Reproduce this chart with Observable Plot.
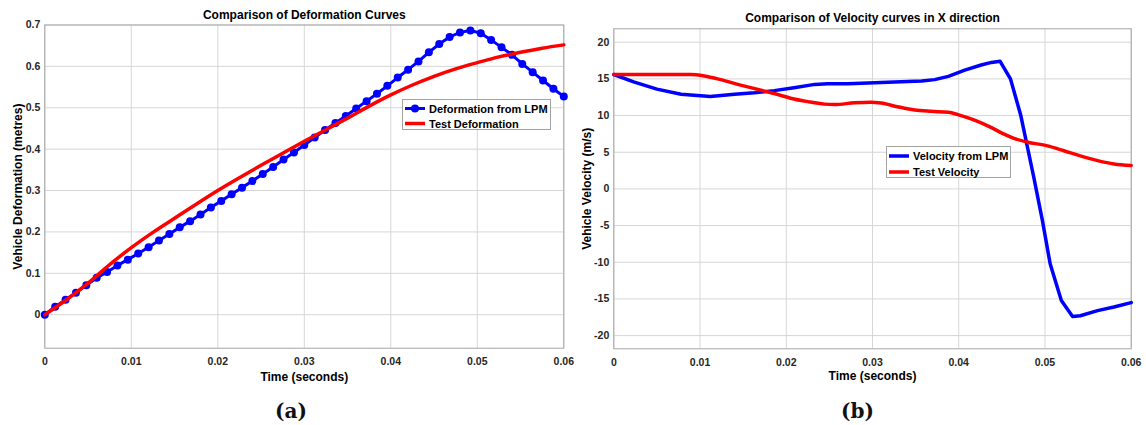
<!DOCTYPE html>
<html>
<head>
<meta charset="utf-8">
<script src="https://cdn.jsdelivr.net/npm/d3@7"></script>
<script src="https://cdn.jsdelivr.net/npm/@observablehq/plot@0.6"></script>
<style>
  html, body { margin: 0; padding: 0; background: #fff; }
  #wrap { position: relative; width: 1146px; height: 425px; overflow: hidden; background: #fff; font-family: "Liberation Sans", Arial, sans-serif; }
  .panel { position: absolute; top: 0; }
  .legend { position: absolute; box-sizing: border-box; border: 1px solid #a3a3a3; background: #fff; font: bold 11px "Liberation Sans", Arial, sans-serif; color: #000; }
  .legend .row { display: flex; align-items: center; white-space: nowrap; }
  .legend svg { display: block; flex: none; margin-right: 2px; }
</style>
</head>
<body>
<div id="wrap">
  <div id="left" class="panel" style="left:0px"></div>
  <div id="right" class="panel" style="left:570px"></div>
</div>
<script>
// ---------- Panel (a): deformation ----------
const lpmTime = [0, 0.0012, 0.0024, 0.0036, 0.0048, 0.006, 0.0072, 0.0084, 0.0096, 0.0108,
  0.012, 0.0132, 0.0144, 0.0156, 0.0168, 0.018, 0.0192, 0.0204, 0.0216, 0.0228,
  0.024, 0.0252, 0.0264, 0.0276, 0.0288, 0.03, 0.0312, 0.0324, 0.0336, 0.0348,
  0.036, 0.0372, 0.0384, 0.0396, 0.0408, 0.042, 0.0432, 0.0444, 0.0456, 0.0468,
  0.048, 0.0492, 0.0504, 0.0516, 0.0528, 0.054, 0.0552, 0.0564, 0.0576, 0.0588, 0.06];
const lpmDeformation = [0, 0.019, 0.036, 0.053, 0.071, 0.089, 0.103, 0.119, 0.133, 0.148,
  0.163, 0.179, 0.195, 0.211, 0.226, 0.242, 0.259, 0.275, 0.291, 0.307,
  0.323, 0.340, 0.357, 0.375, 0.392, 0.410, 0.428, 0.446, 0.463, 0.480,
  0.498, 0.516, 0.534, 0.553, 0.573, 0.592, 0.612, 0.634, 0.654, 0.671,
  0.682, 0.687, 0.680, 0.664, 0.646, 0.628, 0.606, 0.586, 0.566, 0.546, 0.527];

const testDefTime = [0, 0.0025, 0.005, 0.0075, 0.01, 0.0125, 0.015, 0.0175, 0.02, 0.0225,
  0.025, 0.0275, 0.03, 0.0325, 0.035, 0.0375, 0.04, 0.0425, 0.045, 0.0475,
  0.05, 0.0525, 0.055, 0.0575, 0.06];
const testDeformation = [0, 0.036, 0.076, 0.121, 0.162, 0.199, 0.233, 0.267, 0.300, 0.331,
  0.361, 0.390, 0.419, 0.447, 0.475, 0.504, 0.531, 0.555, 0.576, 0.594,
  0.609, 0.623, 0.634, 0.644, 0.652];

// ---------- Panel (b): velocity ----------
const lpmVelTime = [0, 0.0023, 0.005, 0.0078, 0.0112, 0.014, 0.0163, 0.0186, 0.0209, 0.0233,
  0.0248, 0.0271, 0.0295, 0.0318, 0.0341, 0.0357, 0.0372, 0.0388, 0.0407, 0.0426,
  0.0438, 0.0448, 0.046, 0.0472, 0.0487, 0.0497, 0.0506, 0.0519, 0.0532, 0.0541,
  0.0561, 0.058, 0.06];
const lpmVelocity = [15.6, 14.6, 13.6, 12.9, 12.6, 12.9, 13.1, 13.4, 13.8, 14.25,
  14.35, 14.35, 14.45, 14.55, 14.65, 14.7, 14.9, 15.35, 16.2, 16.9,
  17.25, 17.4, 15.0, 10.0, 1.6, -4.3, -10.2, -15.2, -17.4, -17.3,
  -16.6, -16.1, -15.5];

const testVelTime = [0, 0.004, 0.0089, 0.0105, 0.0124, 0.0147, 0.0167, 0.0186, 0.0205, 0.0225,
  0.0244, 0.0256, 0.0279, 0.0298, 0.031, 0.0329, 0.0349, 0.0368, 0.0388, 0.0399,
  0.0419, 0.0438, 0.0452, 0.0464, 0.0479, 0.0503, 0.0522, 0.0541, 0.0561, 0.058, 0.06];
const testVelocity = [15.6, 15.6, 15.6, 15.4, 14.9, 14.15, 13.57, 13.0, 12.37, 11.9,
  11.56, 11.5, 11.74, 11.83, 11.7, 11.2, 10.76, 10.58, 10.45, 10.13,
  9.33, 8.35, 7.5, 6.9, 6.4, 5.87, 5.2, 4.5, 3.86, 3.4, 3.2];

// ---------- ticks & texts ----------
const timeTicks = [0, 0.01, 0.02, 0.03, 0.04, 0.05, 0.06];
const deformTicks = [0, 0.1, 0.2, 0.3, 0.4, 0.5, 0.6, 0.7];
const velocityTicks = [-20, -15, -10, -5, 0, 5, 10, 15, 20];

const titleA = "Comparison of Deformation Curves";
const titleB = "Comparison of Velocity curves in X direction";
const xLabel = "Time (seconds)";
const yLabelA = "Vehicle Deformation (metres)";
const yLabelB = "Vehicle Velocity (m/s)";
const captionA = "(a)";
const captionB = "(b)";
const legendA = ["Deformation from LPM", "Test Deformation"];
const legendB = ["Velocity from LPM", "Test Velocity"];

const BLUE = "#0000ff", RED = "#ff0000";
const FONT = "'Liberation Sans', Arial, sans-serif";

const lpmDefData = lpmTime.map((t, i) => ({t, v: lpmDeformation[i]}));
const testDefData = testDefTime.map((t, i) => ({t, v: testDeformation[i]}));
const lpmVelData = lpmVelTime.map((t, i) => ({t, v: lpmVelocity[i]}));
const testVelData = testVelTime.map((t, i) => ({t, v: testVelocity[i]}));

function common(opts) {
  return [
    Plot.gridX(timeTicks, {stroke: "#d6d6d6", strokeOpacity: 1}),
    Plot.gridY(opts.yTicks, {stroke: "#d6d6d6", strokeOpacity: 1}),
    Plot.frame({stroke: "#a6a6a6"}),
    Plot.axisX({ticks: timeTicks, tickSize: 0, tickPadding: 9.5, tickFormat: d => String(d), label: null, fill: "#262626"}),
    Plot.axisY({ticks: opts.yTicks, tickSize: 0, tickPadding: 4.5, tickFormat: d => String(d), label: null, fill: "#262626"}),
    Plot.text([opts.title], {frameAnchor: "top", textAnchor: "middle", lineAnchor: "bottom", dy: opts.titleDy, fontSize: 12, fontWeight: "bold", fill: "#000"}),
    Plot.text([xLabel], {frameAnchor: "bottom", textAnchor: "middle", lineAnchor: "bottom", dy: opts.xLabelDy, fontSize: 12, fontWeight: "bold", fill: "#000"}),
    Plot.text([opts.yLabel], {frameAnchor: "left", textAnchor: "middle", lineAnchor: "bottom", rotate: -90, dx: -23.3, fontSize: 12, fontWeight: "bold", fill: "#000"}),
    Plot.text([opts.caption], {frameAnchor: "bottom", textAnchor: "middle", lineAnchor: "bottom", dy: opts.capDy, dx: opts.capDx, fontSize: 20, fontWeight: "bold", fontFamily: "'DejaVu Serif', serif", fill: "#111"})
  ];
}

const plotA = Plot.plot({
  width: 570, height: 425,
  marginLeft: 44.3, marginRight: 6.7, marginTop: 24.5, marginBottom: 77.3,
  style: {fontFamily: FONT, fontSize: "10.5px", fontWeight: "bold", overflow: "visible", background: "transparent", color: "#262626"},
  x: {domain: [0, 0.06]},
  y: {domain: [-0.081, 0.7]},
  marks: [
    ...common({yTicks: deformTicks, title: titleA, titleDy: -6, xLabelDy: 32.6, yLabel: yLabelA, caption: captionA, capDy: 69.5, capDx: -13.3}),
    Plot.line(lpmDefData, {x: "t", y: "v", stroke: BLUE, strokeWidth: 3}),
    Plot.dot(lpmDefData, {x: "t", y: "v", r: 4, fill: BLUE, stroke: null}),
    Plot.line(testDefData, {x: "t", y: "v", stroke: RED, strokeWidth: 3.5, curve: "monotone-x"})
  ]
});
document.getElementById("left").appendChild(plotA);

const plotB = Plot.plot({
  width: 576, height: 425,
  marginLeft: 43.3, marginRight: 15.3, marginTop: 28.3, marginBottom: 76.7,
  style: {fontFamily: FONT, fontSize: "10.5px", fontWeight: "bold", overflow: "visible", background: "transparent", color: "#262626"},
  x: {domain: [0, 0.06]},
  y: {domain: [-21.8, 21.83]},
  marks: [
    ...common({yTicks: velocityTicks, title: titleB, titleDy: -6.4, xLabelDy: 31.6, yLabel: yLabelB, caption: captionB, capDy: 69, capDx: -15}),
    Plot.line(lpmVelData, {x: "t", y: "v", stroke: BLUE, strokeWidth: 3.5}),
    Plot.line(testVelData, {x: "t", y: "v", stroke: RED, strokeWidth: 3.5, curve: "monotone-x"})
  ]
});
document.getElementById("right").appendChild(plotB);

// ---------- Legends (HTML overlays) ----------
function legend(box, labels, rowH, withMarker) {
  const div = document.createElement("div");
  div.className = "legend";
  div.style.left = box.left + "px";
  div.style.top = box.top + "px";
  div.style.width = box.width + "px";
  div.style.height = box.height + "px";
  div.style.paddingTop = box.padTop + "px";
  div.style.paddingLeft = "1px";
  const colors = [BLUE, RED];
  labels.forEach((lab, i) => {
    const row = document.createElement("div");
    row.className = "row";
    row.style.height = rowH + "px";
    const sw = 22;
    const marker = (withMarker && i === 0) ? `<circle cx="${sw/2}" cy="${rowH/2}" r="4" fill="${colors[i]}"/>` : "";
    row.innerHTML = `<svg width="${sw + 1}" height="${rowH}"><line x1="1" x2="${sw - 1}" y1="${rowH/2}" y2="${rowH/2}" stroke="${colors[i]}" stroke-width="${i === 0 && withMarker ? 3 : 3.5}"/>${marker}</svg><span>${lab}</span>`;
    div.appendChild(row);
  });
  document.getElementById("wrap").appendChild(div);
}
legend({left: 402, top: 99, width: 149, height: 31, padTop: 1}, legendA, 15, true);
legend({left: 886, top: 146, width: 125, height: 32, padTop: 0.5}, legendB, 16, false);
</script>
</body>
</html>
